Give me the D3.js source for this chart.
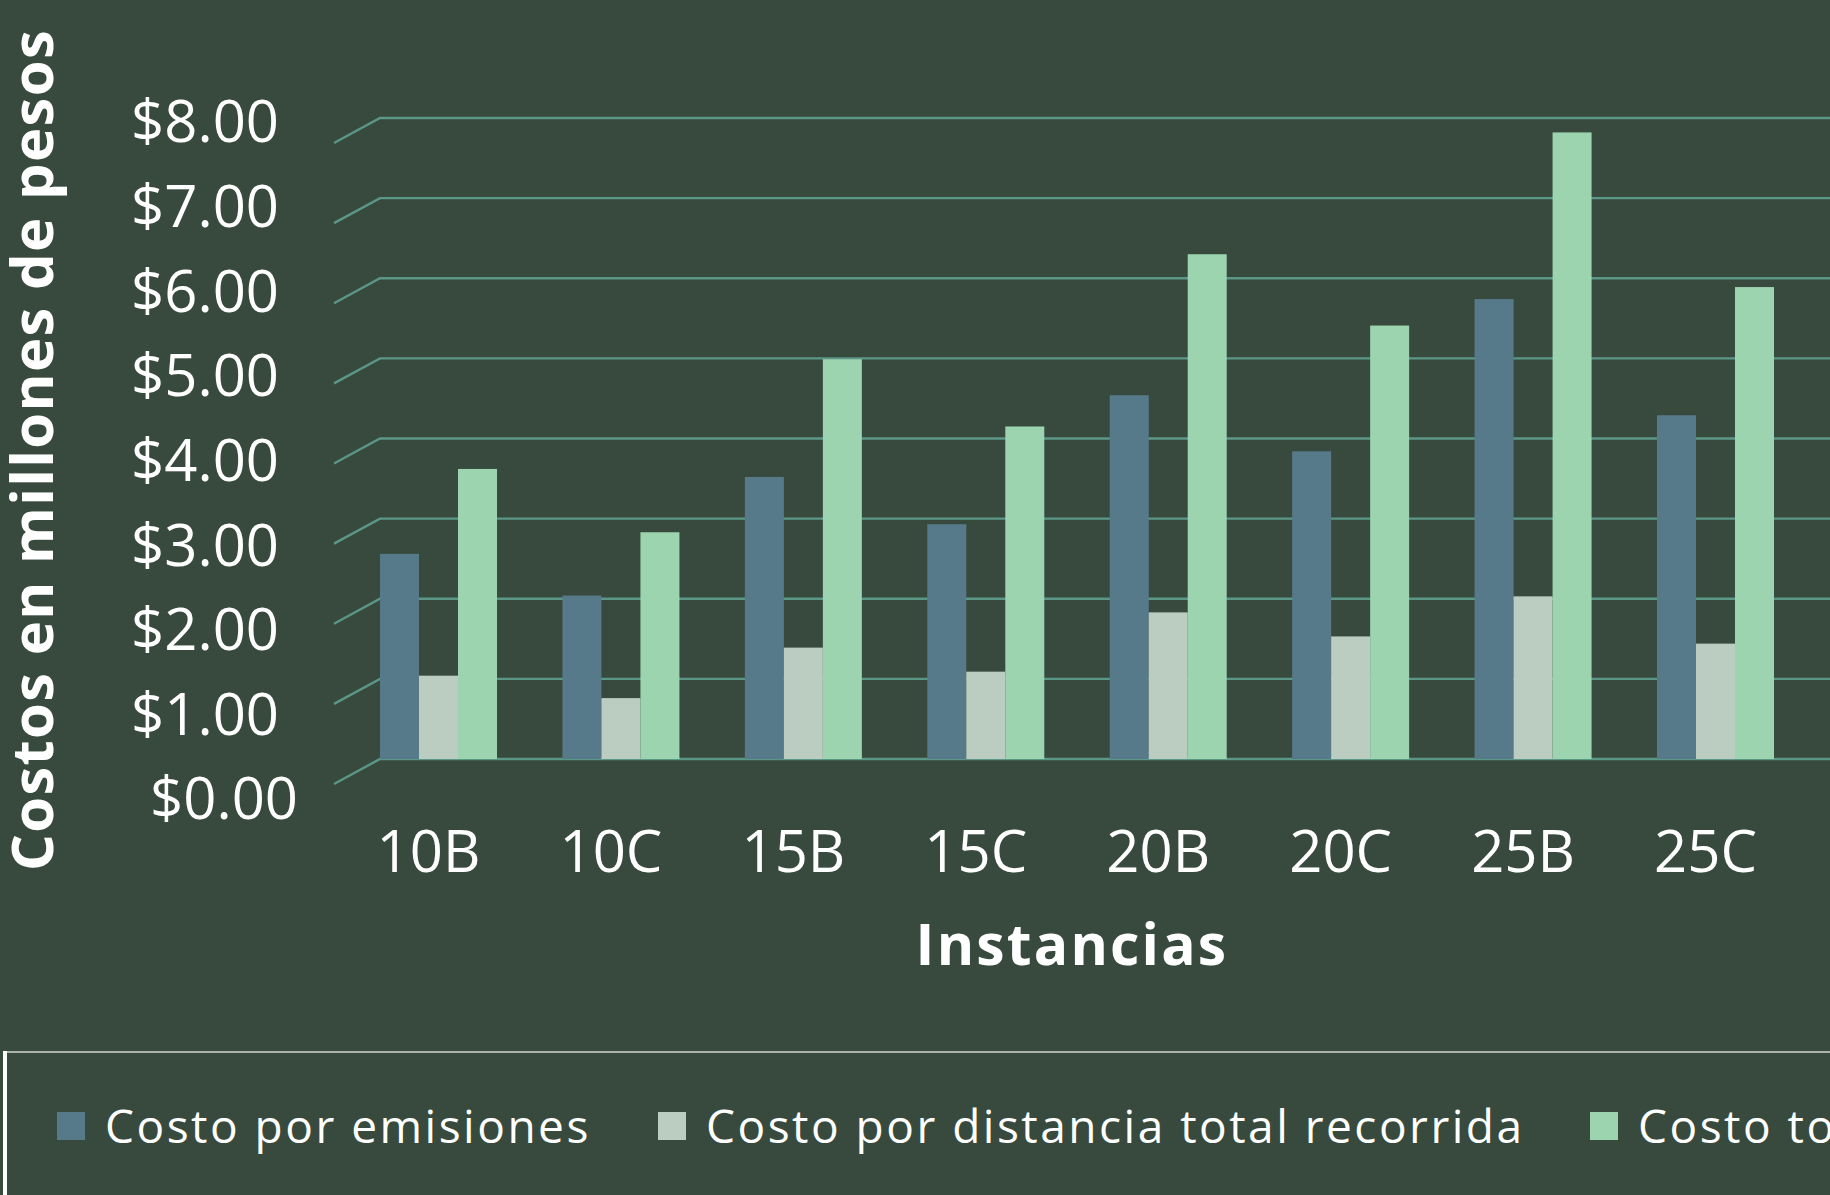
<title>Costos por instancia</title>

<script src="https://d3js.org/d3.v7.min.js"></script>
<style>
    body { margin: 0; background: #384a3e; }
    text { font-family: "Open Sans", sans-serif; fill: #ffffff; }
</style>

<body>
    <div id="plot"></div>
</body>

<script>
    // data (millones de pesos)
    var instancias = ["10B", "10C", "15B", "15C", "20B", "20C", "25B", "25C"];
    var series = ["Costo por emisiones", "Costo por distancia total recorrida", "Costo total"];
    var emisiones = [2.56, 2.04, 3.52, 2.93, 4.54, 3.84, 5.74, 4.29];
    var distancia = [1.04, 0.76, 1.39, 1.09, 1.83, 1.53, 2.03, 1.44];
    var total = [3.62, 2.83, 4.99, 4.15, 6.30, 5.41, 7.82, 5.89];
    var yTicks = [0, 1, 2, 3, 4, 5, 6, 7, 8];

    var colors = ["#577a8b", "#bbccc0", "#9bd4ae"];
    var values = [emisiones, distancia, total];

    var W = 1830, H = 1195;
    var wallLeft = 380, depthDx = -46, depthDy = 25;

    var svg = d3.select("#plot").append("svg")
        .attr("width", W)
        .attr("height", H);

    // background
    svg.append("rect")
        .attr("width", W)
        .attr("height", H)
        .attr("fill", "#384a3e");

    // scales
    var y = d3.scaleLinear().domain([0, 8]).range([759, 118]);
    // labels sit on the front edge of the 3d box, a bit more spread out
    var yLab = d3.scaleLinear().domain([0, 8]).range([798, 121]);

    var x = d3.scaleBand()
        .domain(instancias)
        .range([wallLeft, 1774])
        .paddingInner(0.3586)
        .paddingOuter(0);

    var xs = d3.scaleBand()
        .domain(series)
        .range([0, x.bandwidth()]);

    // gridlines with the depth segment on the left
    svg.append("g")
        .selectAll("path")
        .data(yTicks)
        .enter()
        .append("path")
        .attr("d", function (d) {
            return "M" + (wallLeft + depthDx) + "," + (y(d) + depthDy) +
                   "L" + wallLeft + "," + y(d) + "L" + W + "," + y(d);
        })
        .attr("fill", "none")
        .attr("stroke", "#5b9787")
        .attr("stroke-width", 2.4);

    // bars
    var rows = [];
    instancias.forEach(function (c, i) {
        series.forEach(function (s, j) {
            rows.push({cat: c, ser: s, v: values[j][i], k: j});
        });
    });

    svg.append("g")
        .selectAll("rect")
        .data(rows)
        .enter()
        .append("rect")
        .attr("x", function (d) { return x(d.cat) + xs(d.ser); })
        .attr("y", function (d) { return y(d.v); })
        .attr("width", xs.bandwidth())
        .attr("height", function (d) { return y(0) - y(d.v); })
        .attr("fill", function (d) { return colors[d.k]; });

    // y axis labels
    var yAxis = svg.append("g")
        .attr("transform", "translate(279,0)")
        .call(d3.axisLeft(yLab).tickValues(yTicks).tickSize(0).tickPadding(0)
            .tickFormat(function (d) { return "$" + d3.format(".2f")(d); }));
    yAxis.select(".domain").remove();
    yAxis.selectAll("text")
        .attr("font-family", "'Open Sans', sans-serif")
        .attr("font-size", 58)
        .attr("fill", "#ffffff")
        .attr("dy", "0.36em")
        .attr("x", function (d) { return d === 0 ? 19 : 0; });

    // x axis labels
    var xAxis = svg.append("g")
        .attr("transform", "translate(-10,872)")
        .call(d3.axisBottom(x).tickSize(0).tickPadding(0));
    xAxis.select(".domain").remove();
    xAxis.selectAll("text")
        .attr("font-family", "'Open Sans', sans-serif")
        .attr("font-size", 58)
        .attr("fill", "#ffffff")
        .attr("dy", 0)
        .attr("y", 0);

    // axis titles
    svg.append("text")
        .attr("x", 1072)
        .attr("y", 965)
        .attr("text-anchor", "middle")
        .attr("font-size", 57)
        .attr("font-weight", 700)
        .attr("letter-spacing", "2.2px")
        .text("Instancias");

    svg.append("text")
        .attr("transform", "translate(53,450) rotate(-90)")
        .attr("text-anchor", "middle")
        .attr("font-size", 58)
        .attr("font-weight", 700)
        .attr("letter-spacing", "1.3px")
        .text("Costos en millones de pesos");

    // legend box (cut by the right edge)
    svg.append("line")
        .attr("x1", 5).attr("x2", W)
        .attr("y1", 1052).attr("y2", 1052)
        .attr("stroke", "#a9b3ab")
        .attr("stroke-width", 2);
    svg.append("line")
        .attr("x1", 5).attr("x2", 5)
        .attr("y1", 1051).attr("y2", H)
        .attr("stroke", "#ffffff")
        .attr("stroke-width", 4);

    var legendX = [57, 658, 1590];
    var leg = svg.append("g")
        .selectAll("g")
        .data(series)
        .enter()
        .append("g")
        .attr("transform", function (d, i) { return "translate(" + legendX[i] + ",1112)"; });
    leg.append("rect")
        .attr("width", 28)
        .attr("height", 28)
        .attr("fill", function (d, i) { return colors[i]; });
    leg.append("text")
        .attr("x", 48)
        .attr("y", 31)
        .attr("font-size", 46)
        .attr("letter-spacing", "2.5px")
        .text(function (d) { return d; });
</script>
